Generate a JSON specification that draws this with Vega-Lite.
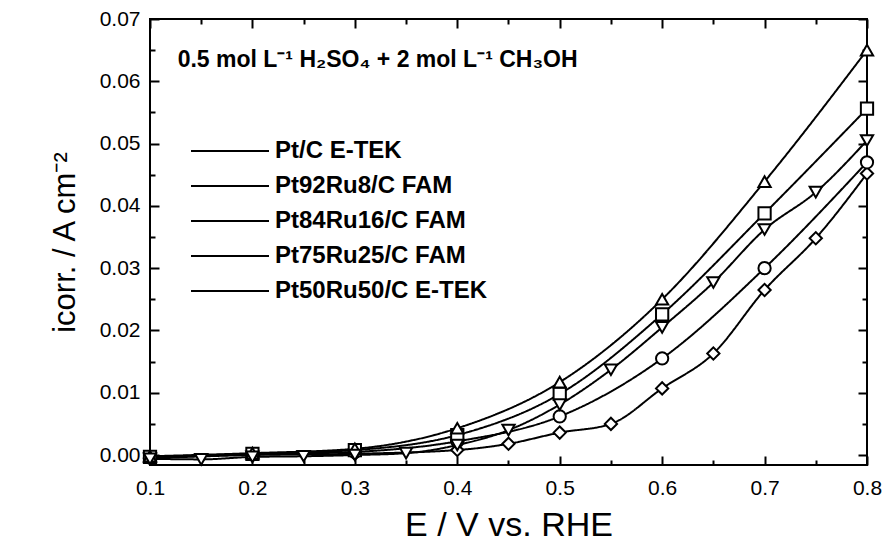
{
  "$schema": "https://vega.github.io/schema/vega-lite/v6.json",
  "width": 717,
  "height": 446,
  "autosize": {"type": "none"},
  "padding": {"left": 150, "top": 19, "right": 26, "bottom": 85},
  "background": "white",
  "data": {
    "values": [
      {"s": "Pt/C E-TEK", "E": 0.1, "i": -0.0005},
      {"s": "Pt/C E-TEK", "E": 0.2, "i": 0.0},
      {"s": "Pt/C E-TEK", "E": 0.3, "i": 0.0002},
      {"s": "Pt/C E-TEK", "E": 0.4, "i": 0.0008},
      {"s": "Pt/C E-TEK", "E": 0.45, "i": 0.0018},
      {"s": "Pt/C E-TEK", "E": 0.5, "i": 0.0036},
      {"s": "Pt/C E-TEK", "E": 0.55, "i": 0.005},
      {"s": "Pt/C E-TEK", "E": 0.6, "i": 0.0107},
      {"s": "Pt/C E-TEK", "E": 0.65, "i": 0.0163},
      {"s": "Pt/C E-TEK", "E": 0.7, "i": 0.0265},
      {"s": "Pt/C E-TEK", "E": 0.75, "i": 0.0348},
      {"s": "Pt/C E-TEK", "E": 0.8, "i": 0.0452},
      {"s": "Pt92Ru8/C FAM", "E": 0.1, "i": -0.0004},
      {"s": "Pt92Ru8/C FAM", "E": 0.2, "i": 0.0001},
      {"s": "Pt92Ru8/C FAM", "E": 0.3, "i": 0.0005},
      {"s": "Pt92Ru8/C FAM", "E": 0.4, "i": 0.0022},
      {"s": "Pt92Ru8/C FAM", "E": 0.5, "i": 0.0062},
      {"s": "Pt92Ru8/C FAM", "E": 0.6, "i": 0.0155},
      {"s": "Pt92Ru8/C FAM", "E": 0.7, "i": 0.03},
      {"s": "Pt92Ru8/C FAM", "E": 0.8, "i": 0.047},
      {"s": "Pt84Ru16/C FAM", "E": 0.1, "i": -0.0003},
      {"s": "Pt84Ru16/C FAM", "E": 0.2, "i": 0.0002},
      {"s": "Pt84Ru16/C FAM", "E": 0.3, "i": 0.0008},
      {"s": "Pt84Ru16/C FAM", "E": 0.4, "i": 0.0032},
      {"s": "Pt84Ru16/C FAM", "E": 0.5, "i": 0.0098},
      {"s": "Pt84Ru16/C FAM", "E": 0.6, "i": 0.0226},
      {"s": "Pt84Ru16/C FAM", "E": 0.7, "i": 0.0388},
      {"s": "Pt84Ru16/C FAM", "E": 0.8, "i": 0.0556},
      {"s": "Pt75Ru25/C FAM", "E": 0.1, "i": -0.0002},
      {"s": "Pt75Ru25/C FAM", "E": 0.2, "i": 0.0003},
      {"s": "Pt75Ru25/C FAM", "E": 0.3, "i": 0.001},
      {"s": "Pt75Ru25/C FAM", "E": 0.4, "i": 0.0043},
      {"s": "Pt75Ru25/C FAM", "E": 0.5, "i": 0.0117},
      {"s": "Pt75Ru25/C FAM", "E": 0.6, "i": 0.025},
      {"s": "Pt75Ru25/C FAM", "E": 0.7, "i": 0.0439},
      {"s": "Pt75Ru25/C FAM", "E": 0.8, "i": 0.065},
      {"s": "Pt50Ru50/C E-TEK", "E": 0.1, "i": -0.0006},
      {"s": "Pt50Ru50/C E-TEK", "E": 0.15, "i": -0.0007},
      {"s": "Pt50Ru50/C E-TEK", "E": 0.2, "i": -0.0003},
      {"s": "Pt50Ru50/C E-TEK", "E": 0.25, "i": -0.0002},
      {"s": "Pt50Ru50/C E-TEK", "E": 0.3, "i": 0.0},
      {"s": "Pt50Ru50/C E-TEK", "E": 0.35, "i": 0.0003},
      {"s": "Pt50Ru50/C E-TEK", "E": 0.4, "i": 0.0016},
      {"s": "Pt50Ru50/C E-TEK", "E": 0.45, "i": 0.004},
      {"s": "Pt50Ru50/C E-TEK", "E": 0.5, "i": 0.0081},
      {"s": "Pt50Ru50/C E-TEK", "E": 0.55, "i": 0.0137},
      {"s": "Pt50Ru50/C E-TEK", "E": 0.6, "i": 0.0205},
      {"s": "Pt50Ru50/C E-TEK", "E": 0.65, "i": 0.0277},
      {"s": "Pt50Ru50/C E-TEK", "E": 0.7, "i": 0.0362},
      {"s": "Pt50Ru50/C E-TEK", "E": 0.75, "i": 0.0422},
      {"s": "Pt50Ru50/C E-TEK", "E": 0.8, "i": 0.0505}
    ]
  },
  "layer": [
    {
      "mark": {"type": "line", "interpolate": "monotone", "color": "black", "strokeWidth": 2},
      "encoding": {
        "x": {"field": "E", "type": "quantitative", "scale": {"domain": [0.1, 0.8], "nice": false, "zero": false},
          "axis": {"orient": "bottom", "values": [0.1, 0.2, 0.3, 0.4, 0.5, 0.6, 0.7, 0.8], "format": ".1f", "ticks": false, "labelPadding": 12, "title": "E / V vs. RHE", "titlePadding": 10}},
        "y": {"field": "i", "type": "quantitative", "scale": {"domain": [-0.0016, 0.07], "nice": false, "zero": false},
          "axis": {"orient": "left", "values": [0, 0.01, 0.02, 0.03, 0.04, 0.05, 0.06, 0.07], "format": ".2f", "ticks": false, "labelPadding": 10, "title": "icorr. / A cm⁻²", "titlePadding": 18}},
        "strokeDash": {"field": "s", "type": "nominal",
          "sort": ["Pt/C E-TEK", "Pt92Ru8/C FAM", "Pt84Ru16/C FAM", "Pt75Ru25/C FAM", "Pt50Ru50/C E-TEK"],
          "scale": {"range": [[1, 0], [1, 0], [1, 0], [1, 0], [1, 0]]},
          "legend": {"orient": "none", "legendX": 40, "legendY": 120, "title": null, "direction": "vertical",
            "symbolType": "stroke", "symbolSize": 6084, "symbolStrokeWidth": 2, "symbolStrokeColor": "black", "symbolDash": [1, 0],
            "clipHeight": 24, "rowPadding": 11, "labelOffset": 5, "labelFontSize": 24, "labelFontWeight": "bold", "labelColor": "black", "labelLimit": 400}}
      }
    },
    {
      "mark": {"type": "point", "filled": false, "color": "black", "fill": "white", "fillOpacity": 1, "strokeWidth": 2, "size": 150, "opacity": 1},
      "encoding": {
        "x": {"field": "E", "type": "quantitative",
          "axis": {"orient": "bottom", "offset": -9, "tickSize": 9, "values": [0.1, 0.2, 0.3, 0.4, 0.5, 0.6, 0.7, 0.8], "labels": false, "title": null}},
        "y": {"field": "i", "type": "quantitative",
          "axis": {"orient": "left", "offset": -9, "tickSize": 9, "values": [0, 0.01, 0.02, 0.03, 0.04, 0.05, 0.06, 0.07], "labels": false, "title": null}},
        "shape": {"field": "s", "type": "nominal",
          "scale": {"domain": ["Pt/C E-TEK", "Pt92Ru8/C FAM", "Pt84Ru16/C FAM", "Pt75Ru25/C FAM", "Pt50Ru50/C E-TEK"],
            "range": ["diamond", "circle", "square", "triangle-up", "triangle-down"]},
          "legend": null}
      }
    },
    {
      "transform": [{"filter": "datum.E > 10"}],
      "mark": {"type": "point", "opacity": 0},
      "encoding": {
        "x": {"field": "E", "type": "quantitative",
          "axis": {"orient": "top", "offset": -9, "tickSize": 9, "values": [0.1, 0.2, 0.3, 0.4, 0.5, 0.6, 0.7, 0.8], "labels": false, "title": null}},
        "y": {"field": "i", "type": "quantitative",
          "axis": {"orient": "right", "offset": -9, "tickSize": 9, "values": [0, 0.01, 0.02, 0.03, 0.04, 0.05, 0.06, 0.07], "labels": false, "title": null}}
      }
    },
    {
      "transform": [{"filter": "datum.E > 10"}],
      "mark": {"type": "point", "opacity": 0},
      "encoding": {
        "x": {"field": "E", "type": "quantitative",
          "axis": {"orient": "bottom", "offset": -5, "tickSize": 5, "values": [0.15, 0.25, 0.35, 0.45, 0.55, 0.65, 0.75], "labels": false, "title": null}},
        "y": {"field": "i", "type": "quantitative",
          "axis": {"orient": "left", "offset": -5, "tickSize": 5, "values": [0.005, 0.015, 0.025, 0.035, 0.045, 0.055, 0.065], "labels": false, "title": null}}
      }
    },
    {
      "transform": [{"filter": "datum.E > 10"}],
      "mark": {"type": "point", "opacity": 0},
      "encoding": {
        "x": {"field": "E", "type": "quantitative",
          "axis": {"orient": "top", "offset": -5, "tickSize": 5, "values": [0.15, 0.25, 0.35, 0.45, 0.55, 0.65, 0.75], "labels": false, "title": null}},
        "y": {"field": "i", "type": "quantitative",
          "axis": {"orient": "right", "offset": -5, "tickSize": 5, "values": [0.005, 0.015, 0.025, 0.035, 0.045, 0.055, 0.065], "labels": false, "title": null}}
      }
    },
    {
      "data": {"values": [{"label": "0.5 mol L⁻¹ H₂SO₄  + 2 mol L⁻¹ CH₃OH", "E": 0.127, "i": 0.0634}]},
      "mark": {"type": "text", "align": "left", "baseline": "middle", "fontSize": 23, "fontWeight": "bold", "color": "black"},
      "encoding": {
        "x": {"field": "E", "type": "quantitative", "axis": null},
        "y": {"field": "i", "type": "quantitative", "axis": null},
        "text": {"field": "label"}
      }
    }
  ],
  "resolve": {"axis": {"x": "independent", "y": "independent"}},
  "config": {
    "font": "Liberation Sans",
    "view": {"stroke": "black", "strokeWidth": 2},
    "axis": {"domain": false, "grid": false, "tickColor": "black", "tickWidth": 2, "labelColor": "black", "labelFont": "Liberation Sans", "labelFontSize": 21, "titleFont": "Liberation Sans", "titleFontSize": 34, "titleFontWeight": "normal", "titleColor": "black", "labelOverlap": false, "labelFlush": false},
    "axisLeft": {"titleFontSize": 31},
    "legend": {"labelFont": "Liberation Sans"}
  }
}
